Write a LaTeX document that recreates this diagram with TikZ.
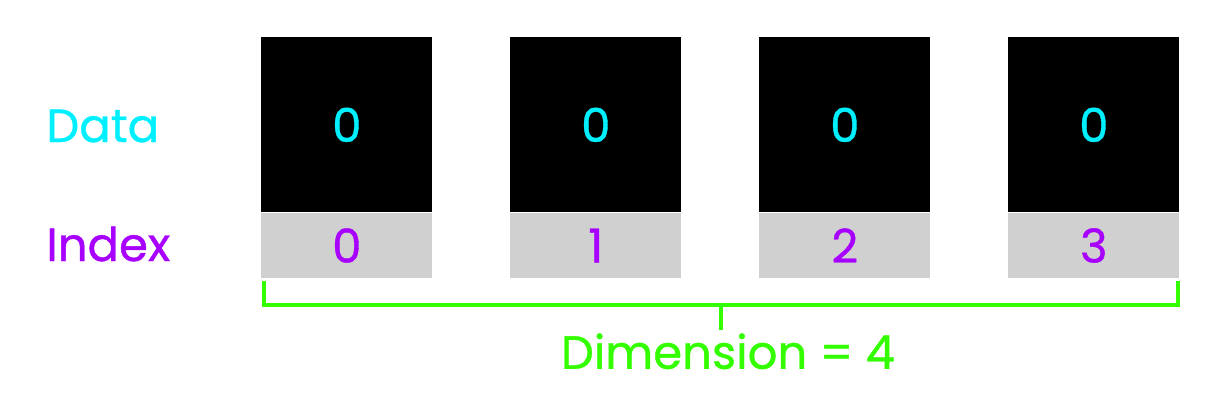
\documentclass[tikz,border=0pt]{standalone}
\usepackage{fontspec}
\setmainfont{Poppins}[FakeBold=0.8]
\usetikzlibrary{positioning}
\definecolor{datacyan}{HTML}{00F0FF}
\definecolor{indexpurple}{HTML}{A800FF}
\definecolor{dimgreen}{HTML}{33FF00}
\definecolor{cellgray}{HTML}{D0D0D0}
\begin{document}
\begin{tikzpicture}[
    x=0.02cm, y=-0.02cm,
    label/.style={
        font=\fontsize{26.5}{32}\selectfont,
        inner sep=0pt
    },
    databox/.style={
        rectangle,
        fill=black,
        minimum width=3.42cm,
        minimum height=3.5cm,
        inner sep=0pt,
        text=datacyan,
        font=\fontsize{26.5}{32}\selectfont
    },
    indexbox/.style={
        rectangle,
        fill=cellgray,
        minimum width=3.42cm,
        minimum height=1.3cm,
        inner sep=0pt,
        text=indexpurple,
        font=\fontsize{26.5}{32}\selectfont
    },
    brace/.style={
        draw=dimgreen,
        line width=2.3pt
    }
]
\useasboundingbox (0,0) rectangle (1220,400);

% Cells
\foreach \i in {0,1,2,3} {
    \node [databox, anchor=north west] (d\i) at (261+249*\i,37) {0};
    \node [indexbox, below=0pt of d\i] (x\i) {\i};
}

% Row labels
\node [label, text=datacyan, anchor=west] (data) at (46,126) {Data};
\node [label, text=indexpurple, anchor=west] (index) at (46,244) {Index};

% Dimension bracket
\coordinate (bl) at (264,281);
\coordinate (br) at (1178,281);
\coordinate (bm) at (721,305);
\draw [brace] (bl) |- (bm) -| (br);
\draw [brace] (bm) -- ++(0,25) coordinate (tip);
\node [label, text=dimgreen, anchor=north] (dim) at ([xshift=0.14cm,yshift=-0.06cm]tip) {Dimension = 4};

\end{tikzpicture}
\end{document}
